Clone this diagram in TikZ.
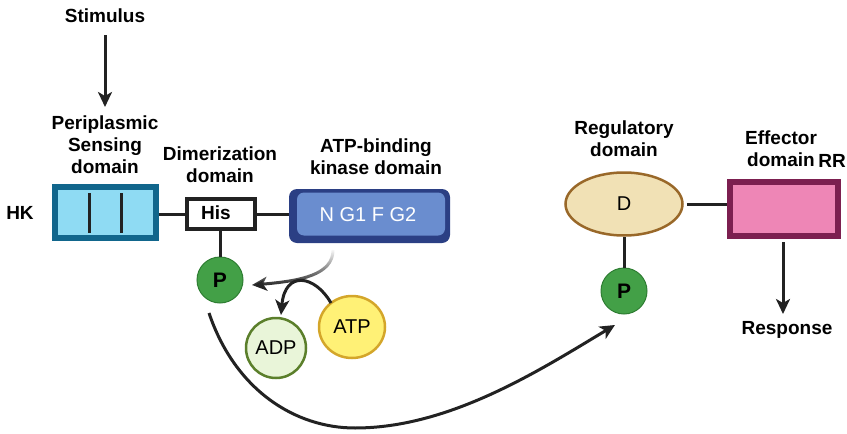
\documentclass[tikz,border=0pt]{standalone}
\usepackage{fontspec}
\setmainfont{Liberation Sans}
\usetikzlibrary{arrows.meta,fadings,shapes.geometric}
\definecolor{sensfill}{HTML}{8FDBF3}
\definecolor{sensdraw}{HTML}{11668C}
\definecolor{kindark}{HTML}{2B3F84}
\definecolor{kinfill}{HTML}{6A8DCF}
\definecolor{pfill}{HTML}{43A047}
\definecolor{pdraw}{HTML}{2E7D32}
\definecolor{adpfill}{HTML}{E9F5D9}
\definecolor{adpdraw}{HTML}{5B7F2B}
\definecolor{atpfill}{HTML}{FFF176}
\definecolor{atpdraw}{HTML}{D4A62A}
\definecolor{regfill}{HTML}{F1E1B5}
\definecolor{regdraw}{HTML}{996829}
\definecolor{efffill}{HTML}{EE86B6}
\definecolor{effdraw}{HTML}{7C1F50}
\definecolor{ink}{HTML}{222222}
\tikzfading[name=fadetop, top color=transparent!100, middle color=transparent!0, bottom color=transparent!0]
\tikzset{
  lbl/.style={font=\fontsize{19}{22}\selectfont\bfseries, align=center, text=black, inner sep=0pt},
  reg/.style={font=\fontsize{20}{22}\selectfont, text=black, inner sep=0pt},
  conn/.style={line width=3pt, draw=ink},
  tip/.style={-{Stealth[length=15pt,width=14pt,inset=4pt]}},
  arr/.style={line width=3pt, draw=ink, tip},
  pcirc/.style={circle, minimum size=46pt, fill=pfill, draw=pdraw, line width=1pt, inner sep=0pt, font=\fontsize{21}{22}\selectfont\bfseries}
}
\begin{document}
\begin{tikzpicture}[x=1pt,y=-1pt]
\useasboundingbox (0,0) rectangle (847,434);
% labels
\node[lbl] (stim) at (105,16) {Stimulus};
\node[lbl] (peri) at (105,145) {Periplasmic\\Sensing\\domain};
\node[lbl] (dimlbl) at (220,165) {Dimerization\\domain};
\node[lbl] (kinlbl) at (376,157) {ATP-binding\\kinase domain};
\node[lbl] (hk) at (20,213) {HK};
\node[lbl] (reglbl) at (624,139) {Regulatory\\domain};
\node[lbl] (efflbl) at (781,149) {Effector\\domain};
\node[lbl] (rr) at (832,161) {RR};
\node[lbl] (resp) at (787,330) {Response};
% stimulus arrow
\coordinate (stimstart) at (105,35);
\coordinate (stimend) at (105,107);
\draw[arr] (stimstart) -- (stimend);
% sensing box
\node[draw=sensdraw, fill=sensfill, line width=6pt, minimum width=101pt, minimum height=51pt, inner sep=0pt] (sens) at (105,212.5) {};
\draw[conn] (89,193) -- (89,233);
\draw[conn] (121,193) -- (121,233);
% his box
\node[draw=ink, fill=white, line width=4.5pt, minimum width=68pt, minimum height=30pt, inner sep=0pt] (his) at (221,214) {};
\node[lbl] (histxt) at (216,213) {His};
% kinase
\node[fill=kindark, rounded corners=8pt, minimum width=161pt, minimum height=54pt, inner sep=0pt] (kin) at (369.5,216) {};
\node[fill=kinfill, rounded corners=7pt, minimum width=148pt, minimum height=43pt, inner sep=0pt] (kinin) at (371,214) {};
\node[reg, text=white] (kintxt) at (368,215) {N G1 F G2};
% connectors HK
\draw[conn] (sens.east |- his.west) -- (his.west);
\draw[conn] (his.east) -- (his.east -| kin.west);
% P on HK
\node[pcirc] (p1) at (220,280) {P};
\draw[conn] (p1.north |- his.south) -- (p1.north);
% ADP ATP
\node[circle, minimum size=60pt, fill=adpfill, draw=adpdraw, line width=2.5pt, inner sep=0pt, reg] (adp) at (276,348) {ADP};
\node[ellipse, minimum width=66pt, minimum height=62pt, fill=atpfill, draw=atpdraw, line width=2.5pt, inner sep=0pt, reg] (atp) at (352,327) {ATP};
% phosphotransfer arrows
\coordinate (kinbot) at (333,250);
\coordinate (ptip) at (252,285);
\draw[line width=3pt, draw=ink, path fading=fadetop, fit fading=true, tip] (kinbot) .. controls (333,275) and (300,281) .. (ptip);
\coordinate (atpstart) at (331,303);
\coordinate (adptip) at (281,315);
\draw[arr] (atpstart) .. controls (315,275) and (285,270) .. (adptip);
% regulatory domain
\node[ellipse, minimum width=117pt, minimum height=63pt, fill=regfill, draw=regdraw, line width=2.5pt, inner sep=0pt, reg] (regd) at (624,204) {D};
\node[pcirc] (p2) at (624,291) {P};
\draw[conn] (regd.south) -- (p2.north);
% effector
\node[draw=effdraw, fill=efffill, line width=6pt, minimum width=108pt, minimum height=54pt, inner sep=0pt] (eff) at (783.5,209) {};
\draw[conn] (regd.east) ++(3,0) -- (regd.east -| eff.west);
\coordinate (respend) at (783,314);
\draw[arr] (783,242) -- (respend);
% big transfer arrow
\coordinate (bigstart) at (209,313);
\coordinate (bigtip) at (615,325);
\draw[arr] (bigstart) .. controls (235,390) and (295,428) .. (355,428) .. controls (450,428) and (540,370) .. (bigtip);
\end{tikzpicture}
\end{document}
